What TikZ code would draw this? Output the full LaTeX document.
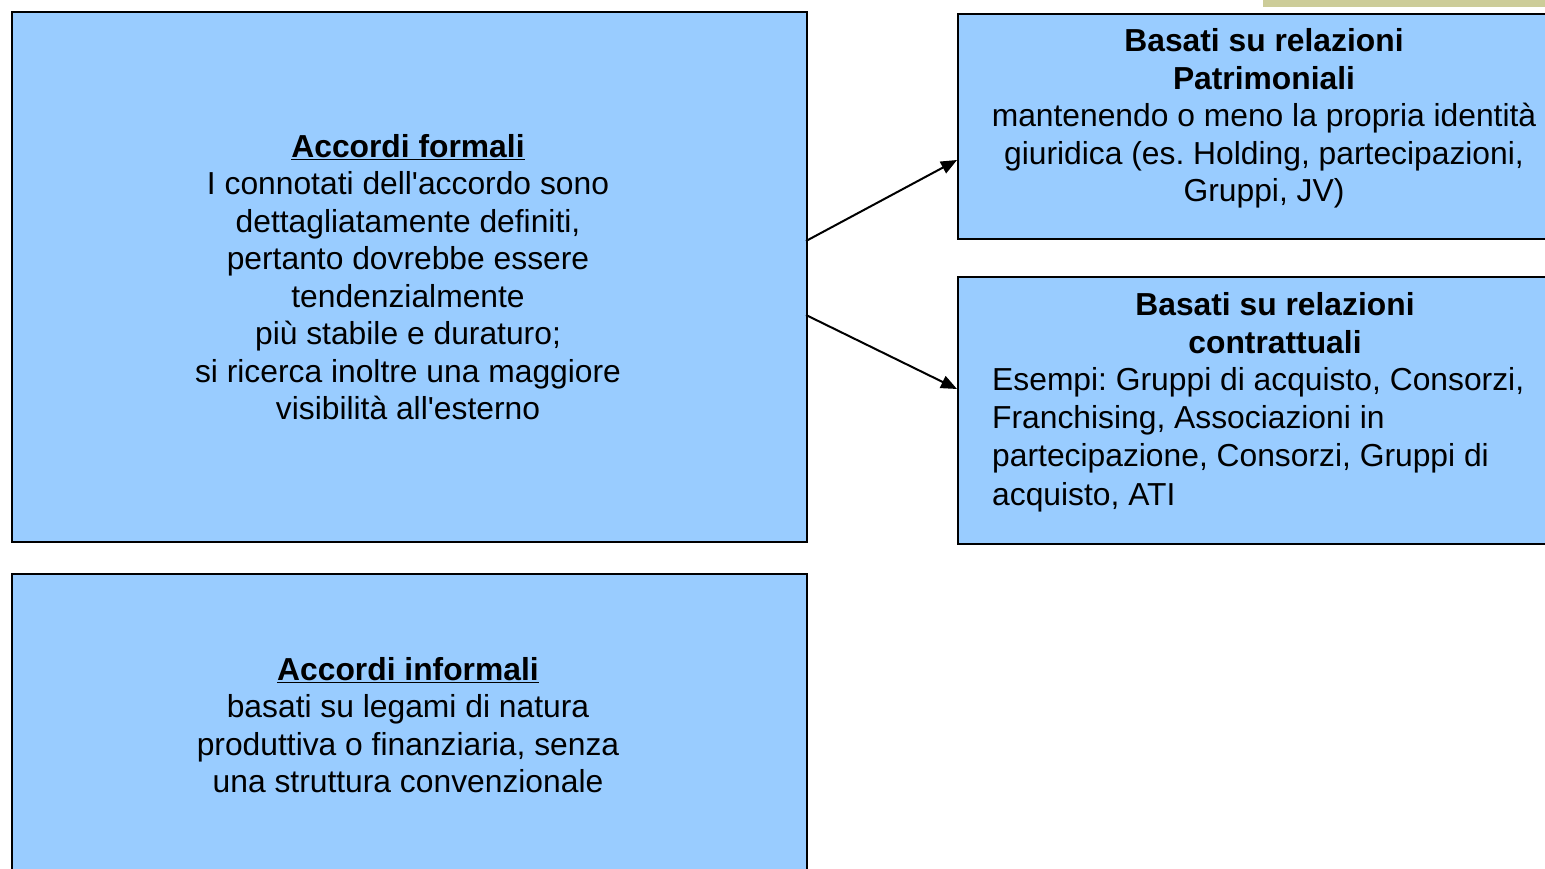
\documentclass[tikz,border=0pt]{standalone}
\usepackage{fontspec}
\setmainfont{Liberation Sans}
\usetikzlibrary{arrows.meta,calc}
\definecolor{boxblue}{HTML}{99CCFF}
\definecolor{tanbar}{HTML}{CCCC99}
\frenchspacing
\newcommand{\ap}{\textquotesingle}
\newcommand{\ul}[1]{\underline{#1}}
\tikzset{
  panel/.style={draw=black, line width=2pt, fill=boxblue, rectangle, inner sep=0pt, anchor=north west},
  txt/.style={font=\fontsize{31.8}{37.5}\selectfont\frenchspacing, inner sep=0pt, align=center},
  link/.style={line width=2pt, -{Triangle[length=16pt,width=13pt]}}
}
\begin{document}
\begin{tikzpicture}[x=1pt,y=-1pt]
\useasboundingbox (0,0) rectangle (1545,869);
\clip (0,0) rectangle (1545,869);
\fill[tanbar] (1263,-2) rectangle (1560,7);
\node[panel, minimum width=795pt, minimum height=530pt] (A) at (11,11) {};
\node[panel, minimum width=795pt, minimum height=302pt] (B) at (11,573) {};
\node[panel, minimum width=620pt, minimum height=225pt] (C) at (957,13) {};
\node[panel, minimum width=620pt, minimum height=267pt] (D) at (957,276) {};
\node[txt] (At) at (408,277) {\textbf{\ul{Accordi formali}}\\
I connotati dell\ap accordo sono\\
dettagliatamente definiti,\\
pertanto dovrebbe essere\\
tendenzialmente\\
più stabile e duraturo;\\
si ricerca inoltre una maggiore\\
visibilità all\ap esterno};
\node[txt] (Bt) at (408,725) {\textbf{\ul{Accordi informali}}\\
basati su legami di natura\\
produttiva o finanziaria, senza\\
una struttura convenzionale};
\node[txt] (Ct) at (1264,118.5) {\textbf{Basati su relazioni}\\
\textbf{Patrimoniali}\\
mantenendo o meno la propria identità\\
giuridica (es. Holding, partecipazioni,\\
Gruppi, JV)};
\node[txt] (Dh) at (1275,323) {\textbf{Basati su relazioni}\\
\textbf{contrattuali}};
\node[txt, font=\fontsize{31.8}{38.3}\selectfont\frenchspacing, align=left, anchor=north west] (Db) at (992,367) {Esempi: Gruppi di acquisto, Consorzi,\\
Franchising, Associazioni in\\
partecipazione, Consorzi, Gruppi di\\
acquisto, ATI};
\coordinate (a1) at (806,241);
\coordinate (a2) at (806,315);
\draw[link] (a1) -- ($(C.north west)+(0,147)$);
\draw[link] (a2) -- ($(D.north west)+(0,113)$);
\end{tikzpicture}
\end{document}
